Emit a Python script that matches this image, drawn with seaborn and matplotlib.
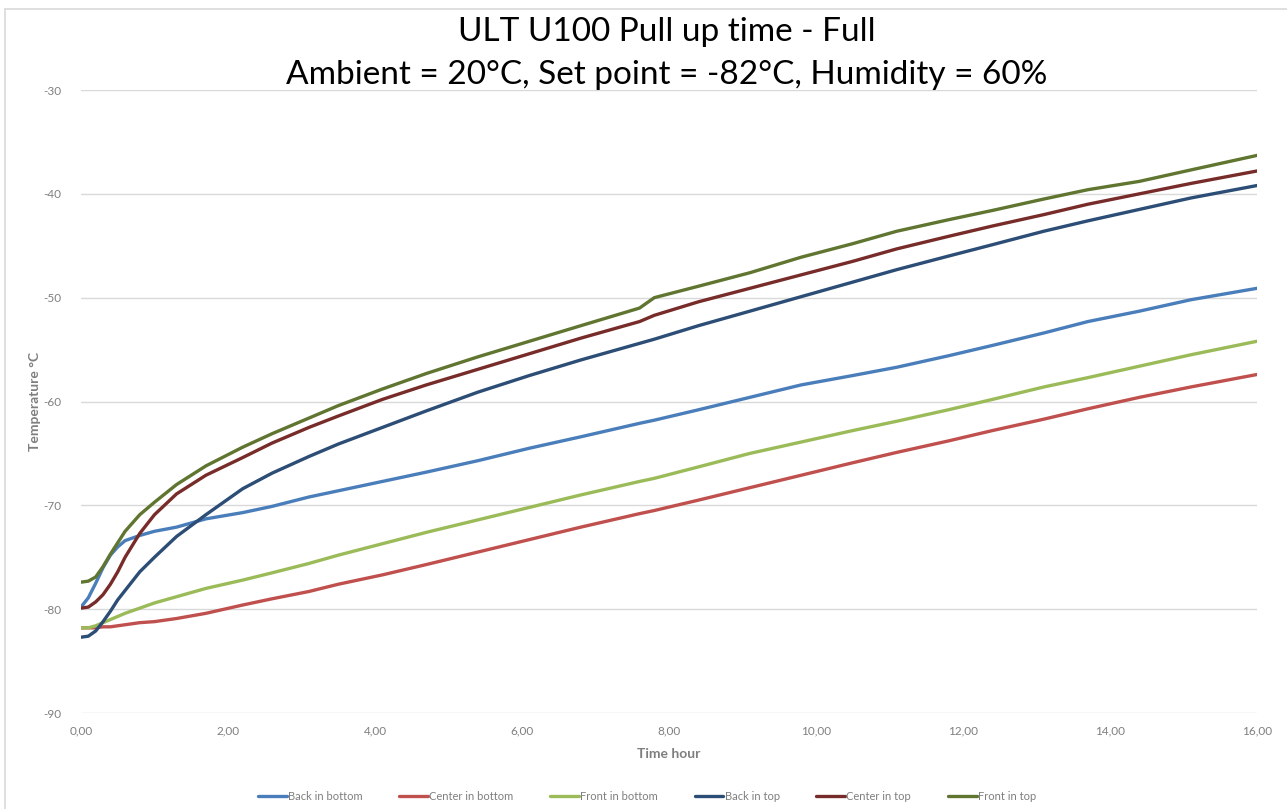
import numpy as np
import pandas as pd
import matplotlib
matplotlib.use("Agg")
import matplotlib.pyplot as plt
from matplotlib.lines import Line2D
import seaborn as sns

time_hours = [0, 0.1, 0.2, 0.3, 0.4, 0.5, 0.6, 0.8, 1.0, 1.3, 1.7, 2.2, 2.6, 3.1, 3.5,
              4.1, 4.7, 5.4, 6.1, 6.8, 7.6, 7.8, 8.4, 9.1, 9.8, 10.5, 11.1, 11.8,
              12.4, 13.1, 13.7, 14.4, 15.1, 16.0]

back_in_bottom = [-79.8, -78.9, -77.5, -76.0, -74.8, -74.0, -73.4, -72.9, -72.5, -72.1,
                  -71.3, -70.7, -70.1, -69.2, -68.6, -67.7, -66.8, -65.7, -64.5, -63.4,
                  -62.1, -61.8, -60.8, -59.6, -58.4, -57.5, -56.7, -55.6, -54.6, -53.4,
                  -52.3, -51.3, -50.2, -49.1]
center_in_bottom = [-81.8, -81.8, -81.8, -81.7, -81.7, -81.6, -81.5, -81.3, -81.2, -80.9,
                    -80.4, -79.6, -79.0, -78.3, -77.6, -76.7, -75.7, -74.5, -73.3, -72.1,
                    -70.8, -70.5, -69.5, -68.3, -67.1, -65.9, -64.9, -63.8, -62.8, -61.7,
                    -60.7, -59.6, -58.6, -57.4]
front_in_bottom = [-81.8, -81.8, -81.6, -81.3, -81.0, -80.7, -80.4, -79.9, -79.4, -78.8,
                   -78.0, -77.2, -76.5, -75.6, -74.8, -73.7, -72.6, -71.4, -70.2, -69.0,
                   -67.7, -67.4, -66.3, -65.0, -63.9, -62.8, -61.9, -60.8, -59.8, -58.6,
                   -57.7, -56.6, -55.5, -54.2]
back_in_top = [-82.7, -82.6, -82.1, -81.2, -80.2, -79.1, -78.2, -76.4, -75.0, -73.0,
               -70.9, -68.4, -66.9, -65.3, -64.1, -62.5, -60.9, -59.1, -57.5, -56.0,
               -54.4, -54.0, -52.7, -51.3, -49.9, -48.5, -47.3, -46.0, -44.9, -43.6,
               -42.6, -41.5, -40.4, -39.2]
center_in_top = [-79.9, -79.8, -79.3, -78.6, -77.6, -76.4, -75.0, -72.7, -70.9, -68.9,
                 -67.1, -65.4, -64.0, -62.5, -61.4, -59.8, -58.4, -56.9, -55.4, -53.9,
                 -52.3, -51.7, -50.4, -49.1, -47.8, -46.5, -45.3, -44.1, -43.1, -42.0,
                 -41.0, -40.0, -39.0, -37.8]
front_in_top = [-77.4, -77.3, -76.9, -75.9, -74.7, -73.6, -72.5, -70.9, -69.7, -68.0,
                -66.2, -64.4, -63.1, -61.6, -60.4, -58.8, -57.3, -55.7, -54.2, -52.7,
                -51.0, -50.0, -48.9, -47.6, -46.1, -44.8, -43.6, -42.5, -41.6, -40.5,
                -39.6, -38.8, -37.7, -36.3]

series_names = ["Back in bottom", "Center in bottom", "Front in bottom",
                "Back in top", "Center in top", "Front in top"]
series_values = [back_in_bottom, center_in_bottom, front_in_bottom,
                 back_in_top, center_in_top, front_in_top]
colors = ["#4A7EBB", "#C0504D", "#9BBB59", "#2C4D75", "#772C2A", "#5F7530"]

x_ticks = [0, 2, 4, 6, 8, 10, 12, 14, 16]
x_tick_labels = ["0,00", "2,00", "4,00", "6,00", "8,00", "10,00", "12,00", "14,00", "16,00"]
y_ticks = [-90, -80, -70, -60, -50, -40, -30]

df = pd.concat([pd.DataFrame({"Time hour": time_hours, "Temperature": v, "Series": n})
                for n, v in zip(series_names, series_values)], ignore_index=True)

sns.set_style("white")
plt.rcParams['font.family'] = ['Lato', 'DejaVu Sans']
plt.rcParams['axes.unicode_minus'] = False

fig = plt.figure(figsize=(12.87, 8.09), dpi=100)
ax = fig.add_axes([81/1287, 1-713/809, (1257-81)/1287, (713-90)/809])

sns.lineplot(data=df, x="Time hour", y="Temperature", hue="Series",
             hue_order=series_names, palette=colors, linewidth=2.4,
             ax=ax, legend=False, sort=False, estimator=None)

ax.set_xlim(0, 16)
ax.set_ylim(-90, -30)
ax.set_xticks(x_ticks)
ax.set_xticklabels(x_tick_labels)
ax.set_yticks(y_ticks)
ax.grid(axis="y", color="#D9D9D9", linewidth=1)
ax.grid(axis="x", visible=False)
for s in ax.spines.values():
    s.set_visible(False)
ax.tick_params(axis="both", length=0, colors="#7F7F7F", labelsize=8.5)
ax.tick_params(axis="y", pad=14)
ax.tick_params(axis="x", pad=9)
ax.set_axisbelow(True)

ax.set_xlabel("Time hour", color="#7F7F7F", fontsize=10, fontweight="bold", labelpad=8)
ax.set_ylabel("Temperature °C", color="#7F7F7F", fontsize=10, fontweight="bold")
ax.yaxis.set_label_coords(-0.034, 0.5)

fig.text(667/1287, 1-32/809, "ULT U100 Pull up time - Full", ha="center", va="center",
         fontsize=24, color="#000000")
fig.text(667/1287, 1-75/809, "Ambient = 20°C, Set point = -82°C, Humidity = 60%",
         ha="center", va="center", fontsize=24, color="#000000")

handles = [Line2D([0], [0], color=c, linewidth=2.4) for c in colors]
fig.legend(handles, series_names, loc="center", bbox_to_anchor=(647/1287, 1-796/809),
           ncol=6, frameon=False, fontsize=8, handlelength=2.6, handletextpad=0.1,
           columnspacing=3.3, labelcolor="#7F7F7F")

# chart border
fig.add_artist(Line2D([5/1287, 5/1287], [0, 1-9/809], color="#D9D9D9", linewidth=1.2,
                      transform=fig.transFigure))
fig.add_artist(Line2D([5/1287, 1], [1-9/809, 1-9/809], color="#D9D9D9", linewidth=1.2,
                      transform=fig.transFigure))

fig.savefig("out.png", dpi=100, facecolor="white")
